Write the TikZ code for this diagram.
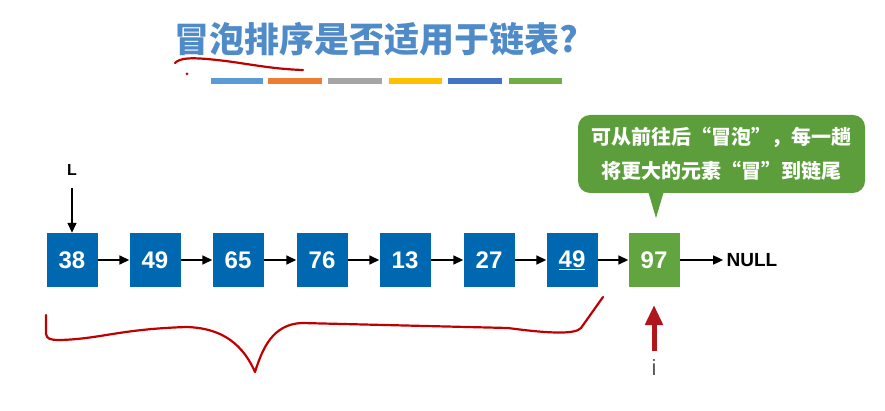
\documentclass[tikz,border=0pt]{standalone}
\usepackage{fontspec}
\setmainfont{Liberation Sans}
\newfontfamily\cjk{Noto Sans CJK SC}
\usetikzlibrary{arrows.meta}
\definecolor{nodeblue}{HTML}{0068B0}
\definecolor{nodegreen}{HTML}{62A43F}
\definecolor{callgreen}{HTML}{5C9E3C}
\definecolor{titleblue}{HTML}{4F8BC9}
\definecolor{handred}{HTML}{C00000}
\definecolor{arrred}{HTML}{B0161B}
\definecolor{barA}{HTML}{5B9BD5}
\definecolor{barB}{HTML}{ED7D31}
\definecolor{barC}{HTML}{A5A5A5}
\definecolor{barD}{HTML}{FFC000}
\definecolor{barE}{HTML}{4472C4}
\definecolor{barF}{HTML}{70AD47}
\begin{document}
\begin{tikzpicture}[x=1pt,y=-1pt,
  listnode/.style={rectangle,fill=nodeblue,minimum width=51pt,minimum height=54pt,inner sep=0pt,text=white,font=\fontsize{24}{24}\selectfont\bfseries},
  link/.style={-{Triangle[length=10pt,width=9pt]},line width=1.6pt,black},
  hand/.style={handred,line width=2.2pt,line cap=round,line join=round},
  bar/.style={line width=6pt}]
\useasboundingbox (0,0) rectangle (885,411);
% title
\node[text=titleblue,font=\cjk\bfseries\fontsize{35}{35}\selectfont,anchor=west] (title) at (171,39) {冒泡排序是否适用于链表?};
\draw[hand] (175,63) .. controls (180,58) and (190,57) .. (217,60) .. controls (245,63) and (270,69) .. (303,70);
\fill[handred] (187,74) circle (1.5pt);
% colour bars
\draw[bar,barA] (211,81) -- (263,81);
\draw[bar,barB] (268,81) -- (322,81);
\draw[bar,barC] (328,81) -- (382,81);
\draw[bar,barD] (389,81) -- (442,81);
\draw[bar,barE] (448,81) -- (502,81);
\draw[bar,barF] (509,81) -- (562,81);
% list
\node[listnode] (n1) at (72,260) {38};
\node[listnode] (n2) at (155,260) {49};
\node[listnode] (n3) at (238,260) {65};
\node[listnode] (n4) at (322,260) {76};
\node[listnode] (n5) at (405,260) {13};
\node[listnode] (n6) at (489,260) {27};
\node[listnode] (n7) at (572,260) {\underline{49}};
\node[listnode,fill=nodegreen] (n8) at (654,260) {97};
\node[font=\fontsize{19}{19}\selectfont\bfseries] (null) at (752,260) {NULL};
\foreach \a/\b in {n1/n2,n2/n3,n3/n4,n4/n5,n5/n6,n6/n7,n7/n8,n8/null}
  \draw[link] (\a) -- (\b);
\node[font=\fontsize{16}{16}\selectfont\bfseries] (L) at (72,170) {L};
\draw[link] (72,188) -- (n1.north);
% pointer i
\node[text=black!65,font=\fontsize{22}{22}\selectfont] (i) at (654,368) {i};
\coordinate (itail) at (654,351);
\draw[-{Triangle[length=20pt,width=17pt]},line width=5pt,arrred] (itail) -- (654,305);
% callout
\fill[callgreen,rounded corners=12pt] (578,115) rectangle (865,193);
\fill[callgreen] (648,191) -- (664,191) -- (656,218) -- cycle;
\node[text=white,font=\cjk\bfseries\fontsize{20}{20}\selectfont,align=center] (call) at (721,154) {可从前往后“冒泡”，每一趟\\[13pt]将更大的元素“冒”到链尾};
% brace
\draw[hand] (46,315) -- (46,334) .. controls (47,339) and (50,340) .. (60,340)
  .. controls (100,339) and (120,329) .. (187,327)
  .. controls (215,328) and (240,338) .. (255,372)
  .. controls (262,350) and (272,324) .. (302,323)
  -- (508,328) .. controls (545,333) and (575,335) .. (581,328) -- (603,297);
\end{tikzpicture}
\end{document}
